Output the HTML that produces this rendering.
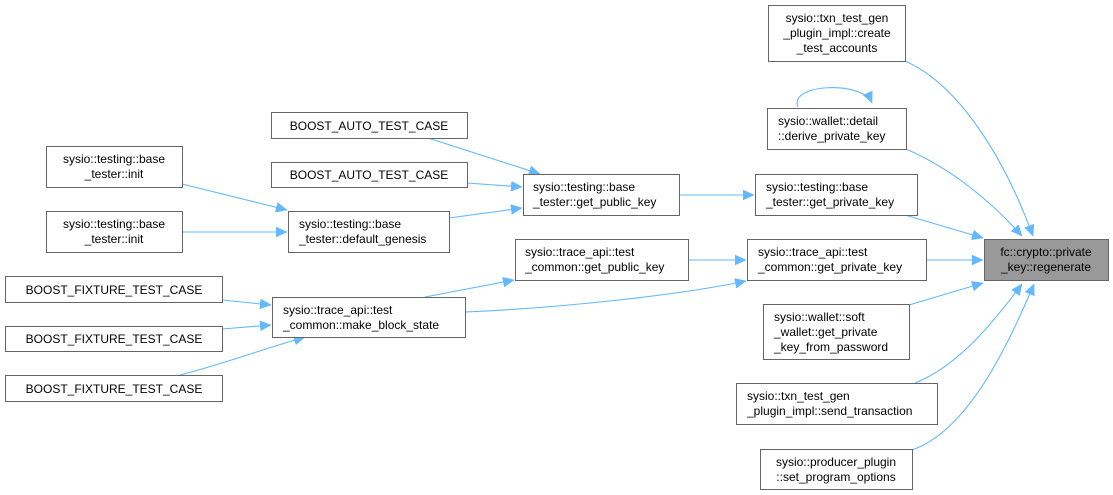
<!DOCTYPE html>
<html><head><meta charset="utf-8"><style>
html,body{margin:0;padding:0;background:#fff;}
svg{display:block;}
text{font-family:"Liberation Sans",Helvetica,sans-serif;font-size:12px;fill:#000;}
rect{fill:#fff;stroke:#666;stroke-width:1;}
path{fill:none;stroke:#63b8ff;stroke-width:1.1;}
</style></head><body>
<svg width="1113" height="495" viewBox="0 0 1113 495" xmlns="http://www.w3.org/2000/svg">
<defs>
<marker id="a" markerUnits="userSpaceOnUse" markerWidth="12" markerHeight="10" refX="11" refY="5" orient="auto">
<path d="M0,0 L11,5 L0,10 Z" style="fill:#63b8ff;stroke:#63b8ff;stroke-width:0.5"/>
</marker>
</defs>
<!-- edges -->
<g marker-end="url(#a)">
<path d="M905,61 C960,85 1005,160 1033,236"/>
<path d="M906,149 C950,168 990,200 1022,236"/>
<path d="M905,215 L983,238"/>
<path d="M926,260 L983,260"/>
<path d="M909,305 L983,283"/>
<path d="M915,383 C960,365 995,320 1022,284"/>
<path d="M912,450 C970,430 1010,340 1034,284"/>
<path d="M798,107 C788,84 862,80 872,103"/>
<path d="M679,195 L754,195"/>
<path d="M688,260 L746,260"/>
<path d="M465,312 C560,308 680,295 746,281"/>
<path d="M425,297 L514,280"/>
<path d="M428,138 L540,174"/>
<path d="M467,183 L522,187"/>
<path d="M449,218 L522,208"/>
<path d="M182,184 L287,210"/>
<path d="M182,232 L287,232"/>
<path d="M222,300 L271,305"/>
<path d="M222,329 L271,325"/>
<path d="M180,375 C220,365 260,350 305,337"/>
</g>
<!-- nodes -->
<rect x="768.5" y="5.5" width="137" height="56"/>
<text x="837" y="22" text-anchor="middle">sysio::txn_test_gen</text>
<text x="837" y="37" text-anchor="middle">_plugin_impl::create</text>
<text x="837" y="52" text-anchor="middle">_test_accounts</text>

<rect x="767.5" y="108.5" width="139" height="41"/>
<text x="778" y="125">sysio::wallet::detail</text>
<text x="778" y="140">::derive_private_key</text>

<rect x="755.5" y="174.5" width="162" height="41"/>
<text x="766" y="191">sysio::testing::base</text>
<text x="766" y="206">_tester::get_private_key</text>

<rect x="747.5" y="239.5" width="179" height="41"/>
<text x="758" y="256">sysio::trace_api::test</text>
<text x="758" y="271">_common::get_private_key</text>

<rect x="984.5" y="239.5" width="124" height="41" style="fill:#999"/>
<text x="1046" y="256" text-anchor="middle">fc::crypto::private</text>
<text x="1046" y="271" text-anchor="middle">_key::regenerate</text>

<rect x="763.5" y="304.5" width="146" height="55"/>
<text x="774" y="321">sysio::wallet::soft</text>
<text x="774" y="336">_wallet::get_private</text>
<text x="774" y="351">_key_from_password</text>

<rect x="736.5" y="383.5" width="201" height="41"/>
<text x="747" y="400">sysio::txn_test_gen</text>
<text x="747" y="415">_plugin_impl::send_transaction</text>

<rect x="760.5" y="449.5" width="152" height="40"/>
<text x="836" y="466" text-anchor="middle">sysio::producer_plugin</text>
<text x="836" y="481" text-anchor="middle">::set_program_options</text>

<rect x="271.5" y="112.5" width="196" height="26"/>
<text x="369" y="130" text-anchor="middle">BOOST_AUTO_TEST_CASE</text>
<rect x="271.5" y="162.5" width="196" height="25"/>
<text x="369" y="179" text-anchor="middle">BOOST_AUTO_TEST_CASE</text>

<rect x="46.5" y="146.5" width="136" height="41"/>
<text x="114" y="163" text-anchor="middle">sysio::testing::base</text>
<text x="114" y="178" text-anchor="middle">_tester::init</text>
<rect x="46.5" y="211.5" width="136" height="41"/>
<text x="114" y="228" text-anchor="middle">sysio::testing::base</text>
<text x="114" y="243" text-anchor="middle">_tester::init</text>

<rect x="288.5" y="211.5" width="161" height="41"/>
<text x="299" y="228">sysio::testing::base</text>
<text x="299" y="243">_tester::default_genesis</text>

<rect x="523.5" y="174.5" width="156" height="41"/>
<text x="533" y="191">sysio::testing::base</text>
<text x="533" y="206">_tester::get_public_key</text>

<rect x="515.5" y="239.5" width="173" height="41"/>
<text x="525" y="256">sysio::trace_api::test</text>
<text x="525" y="271">_common::get_public_key</text>

<rect x="5.5" y="276.5" width="217" height="26"/>
<text x="114" y="294" text-anchor="middle">BOOST_FIXTURE_TEST_CASE</text>
<rect x="5.5" y="326.5" width="217" height="25"/>
<text x="114" y="343" text-anchor="middle">BOOST_FIXTURE_TEST_CASE</text>
<rect x="5.5" y="375.5" width="217" height="26"/>
<text x="114" y="393" text-anchor="middle">BOOST_FIXTURE_TEST_CASE</text>

<rect x="272.5" y="297.5" width="193" height="40"/>
<text x="283" y="314">sysio::trace_api::test</text>
<text x="283" y="329">_common::make_block_state</text>
</svg>
</body></html>
